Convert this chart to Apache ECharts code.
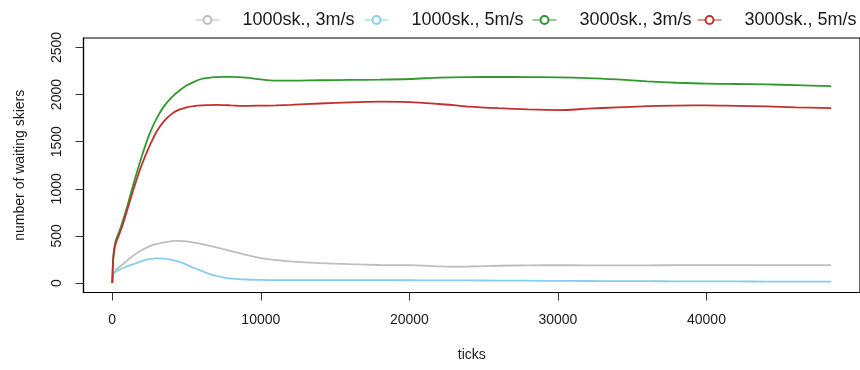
<!DOCTYPE html>
<html>
<head>
<meta charset="utf-8">
<script src="https://cdn.jsdelivr.net/npm/echarts@6/dist/echarts.min.js"></script>
<style>html,body{margin:0;padding:0;background:#fff}#c{width:860px;height:370px}</style>
</head>
<body>
<div id="c"></div>
<script>
// ---- data ----
const seriesNames = ['1000sk., 3m/s', '1000sk., 5m/s', '3000sk., 3m/s', '3000sk., 5m/s'];
const ticks = [0, 50, 100, 200, 300, 500, 750, 1000, 1500, 2000, 2500, 3000, 3500, 4000, 4500, 5000, 5500, 6000, 6500, 7000, 7500, 8000, 9000, 10000, 11000, 12000, 14000, 16000, 18000, 20000, 22000, 23000, 24000, 26000, 28000, 30000, 32000, 34000, 36000, 38000, 40000, 42000, 44000, 46000, 48400];
const gray3 = [0, 80, 105, 125, 150, 175, 205, 240, 300, 350, 390, 415, 432, 445, 448, 442, 430, 415, 398, 380, 360, 340, 298, 265, 243, 230, 212, 200, 192, 190, 178, 173, 176, 184, 188, 190, 188, 187, 188, 190, 190, 190, 190, 190, 190];
const blue5 = [0, 70, 100, 120, 130, 145, 160, 178, 205, 235, 255, 262, 260, 245, 225, 195, 160, 130, 100, 75, 58, 48, 38, 34, 32, 32, 32, 32, 31, 30, 29, 28, 28, 26, 25, 23, 22, 21, 20, 19, 18, 17, 16, 15, 15];
const green3 = [0, 220, 330, 430, 480, 560, 680, 810, 1090, 1350, 1580, 1750, 1880, 1970, 2040, 2095, 2135, 2165, 2178, 2185, 2188, 2188, 2180, 2160, 2148, 2148, 2152, 2155, 2158, 2165, 2180, 2183, 2185, 2187, 2185, 2183, 2175, 2160, 2140, 2125, 2115, 2112, 2108, 2100, 2090];
const red5 = [0, 210, 310, 400, 450, 530, 640, 770, 1030, 1260, 1450, 1610, 1720, 1795, 1840, 1865, 1878, 1885, 1888, 1890, 1888, 1885, 1880, 1882, 1885, 1890, 1905, 1918, 1925, 1920, 1900, 1887, 1872, 1855, 1842, 1835, 1850, 1865, 1878, 1883, 1885, 1880, 1875, 1865, 1857];
const xTickLabels = [0, 10000, 20000, 30000, 40000];
const yTickLabels = [0, 500, 1000, 1500, 2000, 2500];

const colors = ['#BEBEBE', '#87CEEB', '#2E9A2E', '#C0302E'];
const values = [gray3, blue5, green3, red5];
const legendLeft = [190, 359, 527, 692];

const font = 'Liberation Sans, Arial, Helvetica, sans-serif';
const chart = echarts.init(document.getElementById('c'), null, {renderer: 'canvas'});

const series = seriesNames.map((n, i) => ({
  name: n,
  type: 'line',
  data: ticks.map((t, j) => [t, values[i][j]]),
  showSymbol: false,
  symbol: 'emptyCircle',
  smooth: 0.3,
  color: colors[i],
  lineStyle: {width: 1.8, color: colors[i]},
  z: 2 + i
}));

const legends = seriesNames.map((n, i) => ({
  data: [n],
  left: legendLeft[i],
  top: 6,
  itemWidth: 24,
  itemHeight: 10,
  lineStyle: {width: 1},
  textStyle: {fontFamily: font, fontSize: 18, color: '#1a1a1a', padding: [0, 0, 0, 18]}
}));

const plain = v => String(v);

chart.setOption({
  animation: false,
  backgroundColor: '#fff',
  legend: legends,
  grid: {left: 83.5, top: 38, width: 780, height: 254.5, show: true, borderColor: '#000', borderWidth: 1.2, containLabel: false},
  xAxis: {
    type: 'value', min: -1936, max: 50336,
    name: 'ticks', nameLocation: 'middle', nameGap: 56,
    nameTextStyle: {fontFamily: font, fontSize: 14, color: '#1a1a1a'},
    axisLine: {show: true, onZero: false, lineStyle: {color: '#000', width: 1.2}},
    axisTick: {show: true, length: 8, inside: false, customValues: xTickLabels, lineStyle: {color: '#333'}},
    axisLabel: {customValues: xTickLabels, formatter: plain, margin: 21, fontFamily: font, fontSize: 14, color: '#1a1a1a'},
    splitLine: {show: false}
  },
  yAxis: {
    type: 'value', min: -100, max: 2600,
    name: 'number of waiting skiers', nameLocation: 'middle', nameGap: 56, nameRotate: 90,
    nameTextStyle: {fontFamily: font, fontSize: 14, color: '#1a1a1a'},
    axisLine: {show: true, onZero: false, lineStyle: {color: '#000', width: 1.2}},
    axisTick: {show: true, length: 8, inside: false, customValues: yTickLabels, lineStyle: {color: '#333'}},
    axisLabel: {customValues: yTickLabels, formatter: plain, rotate: 90, margin: 19, fontFamily: font, fontSize: 14, color: '#1a1a1a', align: 'center', verticalAlign: 'bottom'},
    splitLine: {show: false}
  },
  series: series
});
</script>
</body>
</html>
